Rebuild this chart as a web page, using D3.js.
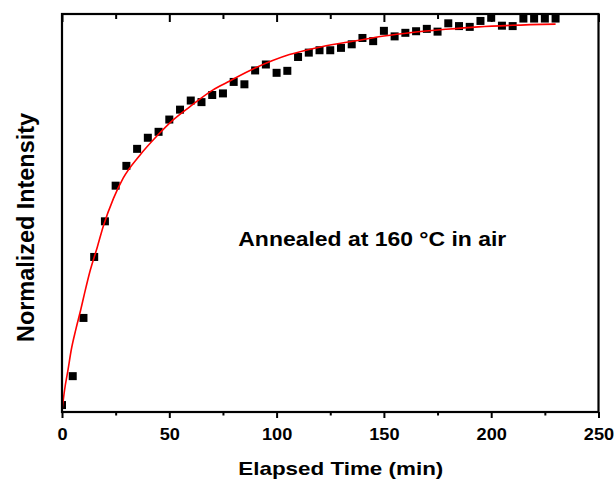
<!DOCTYPE html>
<html>
<head>
<meta charset="utf-8">
<script src="https://cdn.jsdelivr.net/npm/d3@7"></script>
<style>
  html, body { margin: 0; padding: 0; background: #fff; }
  svg { display: block; }
  text { font-family: "Liberation Sans", Arial, sans-serif; font-weight: bold; fill: #000; }
</style>
</head>
<body>
<svg id="chart" width="616" height="479"></svg>
<script>
// Measured data (elapsed time in minutes, normalized intensity)
const times = [0,5,10,15,20,25,30,35,40,45,50,55,60,65,70,75,80,85,90,95,100,105,110,115,120,125,130,135,140,145,150,155,160,165,170,175,180,185,190,195,200,205,210,215,220,225,230];
const intensity = [0.015,0.088,0.235,0.389,0.479,0.569,0.619,0.662,0.690,0.705,0.736,0.761,0.784,0.780,0.798,0.802,0.831,0.825,0.860,0.875,0.854,0.859,0.894,0.905,0.911,0.911,0.917,0.926,0.942,0.934,0.960,0.946,0.955,0.959,0.965,0.958,0.979,0.972,0.970,0.985,0.993,0.973,0.972,0.991,0.991,0.991,0.991];

// Fitted curve
const fitTimes = [0,1.2,2.8,4.3,6.4,8.7,10.5,13.2,16.4,19.2,24,28.5,36.3,44,51.8,59.5,70.4,77,90,106,121,137,150,163,179,194,210,230];
const fitValues = [0,0.053,0.104,0.154,0.205,0.255,0.297,0.356,0.413,0.466,0.537,0.588,0.646,0.693,0.735,0.768,0.811,0.830,0.866,0.900,0.920,0.935,0.947,0.956,0.964,0.970,0.974,0.977];

const xTicks = [0,50,100,150,200,250];
const xMinorTicks = [25,75,125,175,225];

const xLabel = "Elapsed Time (min)";
const yLabel = "Normalized Intensity";
const note = "Annealed at 160 °C in air";

const svg = d3.select("#chart");
const L = 62, R = 598.5, T = 14, B = 412;

const x = d3.scaleLinear().domain([0, 250]).range([L, R]);
const y = d3.scaleLinear().domain([0, 1]).range([B - 1, T + 1]);

function stretchTo(sel, width) {
  sel.attr("textLength", width).attr("lengthAdjust", "spacingAndGlyphs");
}
function stretchBy(sel, f) {
  sel.each(function() {
    const w = this.getComputedTextLength();
    d3.select(this).attr("textLength", w * f).attr("lengthAdjust", "spacingAndGlyphs");
  });
}

svg.append("defs").append("clipPath").attr("id", "plotclip")
  .append("rect").attr("x", L).attr("y", T).attr("width", R - L).attr("height", B - T);

const plot = svg.append("g").attr("clip-path", "url(#plotclip)");

// markers
const ms = 8;
plot.selectAll("rect.pt").data(times.map((t, i) => [t, intensity[i]]))
  .join("rect").attr("class", "pt")
  .attr("x", d => x(d[0]) - ms / 2)
  .attr("y", d => y(d[1]) - ms / 2)
  .attr("width", ms).attr("height", ms)
  .attr("fill", "#000");

// fit curve
const line = d3.line().x(d => x(d[0])).y(d => y(d[1])).curve(d3.curveMonotoneX);
plot.append("path")
  .datum(fitTimes.map((t, i) => [t, fitValues[i]]))
  .attr("d", line)
  .attr("fill", "none").attr("stroke", "#ff0000").attr("stroke-width", 1.6);

// bottom axis (ticks outward)
const bottomAxis = svg.append("g").attr("transform", `translate(0,${B})`)
  .call(d3.axisBottom(x).tickValues(xTicks).tickSize(6).tickPadding(10).tickFormat(d3.format("d")));
bottomAxis.select(".domain").remove();
bottomAxis.selectAll(".tick line").attr("stroke", "#000").attr("stroke-width", 2);
bottomAxis.selectAll(".tick text").attr("font-size", 16.5).attr("font-family", null).attr("dy", null).attr("y", 28);
stretchBy(bottomAxis.selectAll(".tick text"), 1.1);

const bottomMinor = svg.append("g").attr("transform", `translate(0,${B})`)
  .call(d3.axisBottom(x).tickValues(xMinorTicks).tickSize(3.5).tickFormat(""));
bottomMinor.select(".domain").remove();
bottomMinor.selectAll(".tick line").attr("stroke", "#000").attr("stroke-width", 2);

// top axis (ticks inward)
const topAxis = svg.append("g").attr("transform", `translate(0,${T})`)
  .call(d3.axisTop(x).tickValues(xTicks).tickSize(-8).tickFormat(""));
topAxis.select(".domain").remove();
topAxis.selectAll(".tick line").attr("stroke", "#000").attr("stroke-width", 2);
const topMinor = svg.append("g").attr("transform", `translate(0,${T})`)
  .call(d3.axisTop(x).tickValues(xMinorTicks).tickSize(-5).tickFormat(""));
topMinor.select(".domain").remove();
topMinor.selectAll(".tick line").attr("stroke", "#000").attr("stroke-width", 2);

// frame
svg.append("rect").attr("x", L).attr("y", T).attr("width", R - L).attr("height", B - T)
  .attr("fill", "none").attr("stroke", "#000").attr("stroke-width", 2.2);

// titles
const xt = svg.append("text").attr("x", 340.8).attr("y", 474.5)
  .attr("text-anchor", "middle").attr("font-size", 18.5).text(xLabel);
stretchTo(xt, 205);

const yt = svg.append("text").attr("transform", "translate(34,227.5) rotate(-90)")
  .attr("text-anchor", "middle").attr("font-size", 24.5).text(yLabel);
stretchTo(yt, 229);

const nt = svg.append("text").attr("x", 238.3).attr("y", 246)
  .attr("text-anchor", "start").attr("font-size", 21).text(note);
stretchTo(nt, 268);
</script>
</body>
</html>
